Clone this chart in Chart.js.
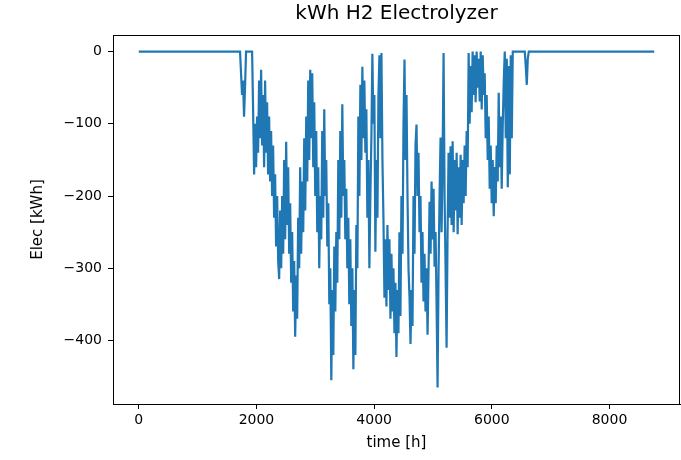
<!DOCTYPE html>
<html>
<head>
<meta charset="utf-8">
<title>kWh H2 Electrolyzer</title>
<script src="https://cdn.jsdelivr.net/npm/chart.js@4.4.0/dist/chart.umd.min.js"></script>
<style>
    html, body { margin: 0; padding: 0; background: #fff; }
    #wrap { width: 681px; height: 460px; }
</style>
</head>
<body>
<div id="wrap"><canvas id="elec-chart" width="681" height="460"></canvas></div>
<script>
// hour of the year (about one point per pixel in the busy part)
const hours = [0, 1721, 1738, 1755, 1772, 1789, 1806, 1823, 1926,
    1943, 1960, 1977, 1994, 2011, 2028, 2045, 2062, 2079, 2096,
    2113, 2130, 2147, 2164, 2181, 2198, 2215, 2232, 2249, 2266,
    2283, 2300, 2317, 2334, 2352, 2369, 2386, 2403, 2420, 2437,
    2454, 2471, 2488, 2505, 2522, 2539, 2556, 2573, 2590, 2607,
    2624, 2641, 2658, 2675, 2692, 2709, 2726, 2743, 2760, 2778,
    2795, 2812, 2829, 2846, 2863, 2880, 2897, 2914, 2931, 2948,
    2965, 2982, 2999, 3016, 3033, 3050, 3067, 3084, 3101, 3118,
    3135, 3152, 3169, 3186, 3204, 3221, 3238, 3255, 3272, 3289,
    3306, 3323, 3340, 3357, 3374, 3391, 3408, 3425, 3442, 3459,
    3476, 3493, 3510, 3527, 3544, 3561, 3578, 3595, 3612, 3630,
    3647, 3664, 3681, 3698, 3715, 3732, 3749, 3766, 3783, 3800,
    3817, 3834, 3851, 3868, 3885, 3902, 3919, 3936, 3953, 3970,
    3987, 4004, 4021, 4038, 4056, 4073, 4090, 4107, 4124, 4141,
    4158, 4175, 4192, 4209, 4226, 4243, 4260, 4277, 4294, 4311,
    4328, 4345, 4362, 4379, 4396, 4413, 4430, 4447, 4464, 4482,
    4499, 4516, 4533, 4550, 4567, 4584, 4601, 4618, 4635, 4652,
    4669, 4686, 4703, 4720, 4737, 4754, 4771, 4788, 4805, 4822,
    4839, 4856, 4873, 4890, 4908, 4925, 4942, 4959, 4976, 4993,
    5010, 5027, 5044, 5061, 5078, 5095, 5112, 5129, 5146, 5163,
    5180, 5197, 5214, 5231, 5248, 5265, 5282, 5299, 5316, 5334,
    5351, 5368, 5385, 5402, 5419, 5436, 5453, 5470, 5487, 5504,
    5521, 5538, 5555, 5572, 5589, 5606, 5623, 5640, 5657, 5674,
    5691, 5708, 5725, 5742, 5760, 5777, 5794, 5811, 5828, 5845,
    5862, 5879, 5896, 5913, 5930, 5947, 5964, 5981, 5998, 6015,
    6032, 6049, 6066, 6083, 6100, 6117, 6134, 6151, 6168, 6186,
    6203, 6220, 6237, 6254, 6271, 6288, 6305, 6322, 6339, 6356,
    6373, 6560, 6577, 6594, 6611, 6628, 8760];

// electrolyzer energy in kWh, same order as hours
const elecKwh = [0, 0, -30, -60, -40, -90, -50, 0, 0,
    -80, -170, -100, -160, -90, -140, -40, -120, -25, -130,
    -60, -160, -40, -140, -70, -170, -90, -180, -110, -200,
    -130, -230, -170, -270, -200, -290, -315, -220, -300, -200,
    -280, -150, -260, -125, -240, -160, -280, -210, -320, -250,
    -360, -290, -395, -310, -370, -230, -300, -160, -280, -180,
    -250, -120, -220, -90, -180, -40, -150, -25, -120, -30,
    -160, -70, -200, -110, -250, -160, -300, -200, -260, -110,
    -230, -80, -200, -150, -270, -210, -350, -300, -455, -330,
    -420, -270, -360, -250, -320, -150, -260, -110, -230, -73,
    -200, -150, -260, -190, -300, -230, -350, -260, -380, -300,
    -440, -330, -420, -240, -300, -90, -200, -46, -150, -21,
    -120, -40, -140, -80, -230, -150, -300, -200, -120, -3,
    -100, -60, -277, -150, -230, -60, -5, -120, -2, -150,
    -230, -341, -260, -353, -240, -330, -260, -370, -280, -360,
    -300, -390, -320, -423, -330, -390, -250, -366, -200, -280,
    -100, -11, -150, -60, -200, -300, -340, -405, -330, -380,
    -200, -280, -130, -101, -200, -140, -250, -200, -320, -250,
    -346, -280, -360, -300, -392, -300, -208, -280, -180, -260,
    -190, -298, -250, -350, -465, -300, -200, -119, -250, -150,
    -2, -200, -300, -410, -250, -140, -230, -131, -240, -124,
    -250, -150, -220, -140, -253, -160, -230, -143, -240, -150,
    -210, -130, -200, -110, -160, -2, -100, -20, -84, 0,
    -60, -5, -70, 0, -50, -10, -69, 0, -80, -5,
    -60, -30, -120, -60, -150, -90, -190, -130, -210, -150,
    -228, -160, -210, -130, -180, -57, -160, -90, -190, -100,
    -40, 0, -120, -10, -188, -20, -170, -5, -120, 0,
    0, 0, -20, -46, -10, 0, 0];

const xTicks = [0, 2000, 4000, 6000, 8000];
const yTicks = [0, -100, -200, -300, -400];

const points = hours.map((h, i) => ({ x: h, y: elecKwh[i] }));

// matplotlib draws a box round the axes, Chart.js only the two axis borders
const frameBox = {
    id: 'frameBox',
    afterDraw(chart) {
        const { ctx, chartArea: a } = chart;
        ctx.save();
        ctx.strokeStyle = '#000';
        ctx.lineWidth = 1;
        ctx.strokeRect(a.left + 0.5, a.top + 0.5, a.right - a.left - 1, a.bottom - a.top);
        ctx.restore();
    }
};

const minusSign = v => (v < 0 ? '\u2212' + Math.abs(v) : String(v));
const tickFont = { family: 'DejaVu Sans', size: 14 };
const labelFont = { family: 'DejaVu Sans', size: 15 };

new Chart(document.getElementById('elec-chart').getContext('2d'), {
    type: 'line',
    data: {
        datasets: [{
            label: 'Elec',
            data: points,
            borderColor: '#1f77b4',
            borderWidth: 2.2,
            pointRadius: 0,
            tension: 0,
            fill: false
        }]
    },
    options: {
        responsive: false,
        animation: false,
        devicePixelRatio: 1,
        layout: { padding: { left: 0, right: 1, top: 0, bottom: 0 } },
        plugins: {
            legend: { display: false },
            tooltip: { enabled: false },
            title: {
                display: true,
                fullSize: false,
                text: 'kWh H2 Electrolyzer',
                color: '#000',
                font: { family: 'DejaVu Sans', size: 20, weight: 'normal' },
                padding: { top: 2, bottom: 9 }
            }
        },
        scales: {
            x: {
                type: 'linear',
                min: -438,
                max: 9198,
                afterBuildTicks: s => { s.ticks = xTicks.map(v => ({ value: v })); },
                afterFit: s => { s.height = 56; },
                grid: { display: true, drawOnChartArea: false, drawTicks: true, tickLength: 5, color: '#000' },
                border: { display: true, color: '#000', width: 1 },
                ticks: { color: '#000', font: tickFont, padding: 3, maxRotation: 0, callback: v => String(v) },
                title: { display: true, text: 'time [h]', color: '#000', font: labelFont, padding: { top: 0, bottom: 8 } }
            },
            y: {
                type: 'linear',
                min: -488,
                max: 23,
                afterBuildTicks: s => { s.ticks = yTicks.map(v => ({ value: v })); },
                afterFit: s => { s.width = 113; },
                grid: { display: true, drawOnChartArea: false, drawTicks: true, tickLength: 5, color: '#000' },
                border: { display: true, color: '#000', width: 1 },
                ticks: { color: '#000', font: tickFont, padding: 6, callback: minusSign },
                title: { display: true, text: 'Elec [kWh]', color: '#000', font: labelFont, padding: { top: 29, bottom: 0 } }
            }
        }
    },
    plugins: [frameBox]
});
</script>
</body>
</html>
